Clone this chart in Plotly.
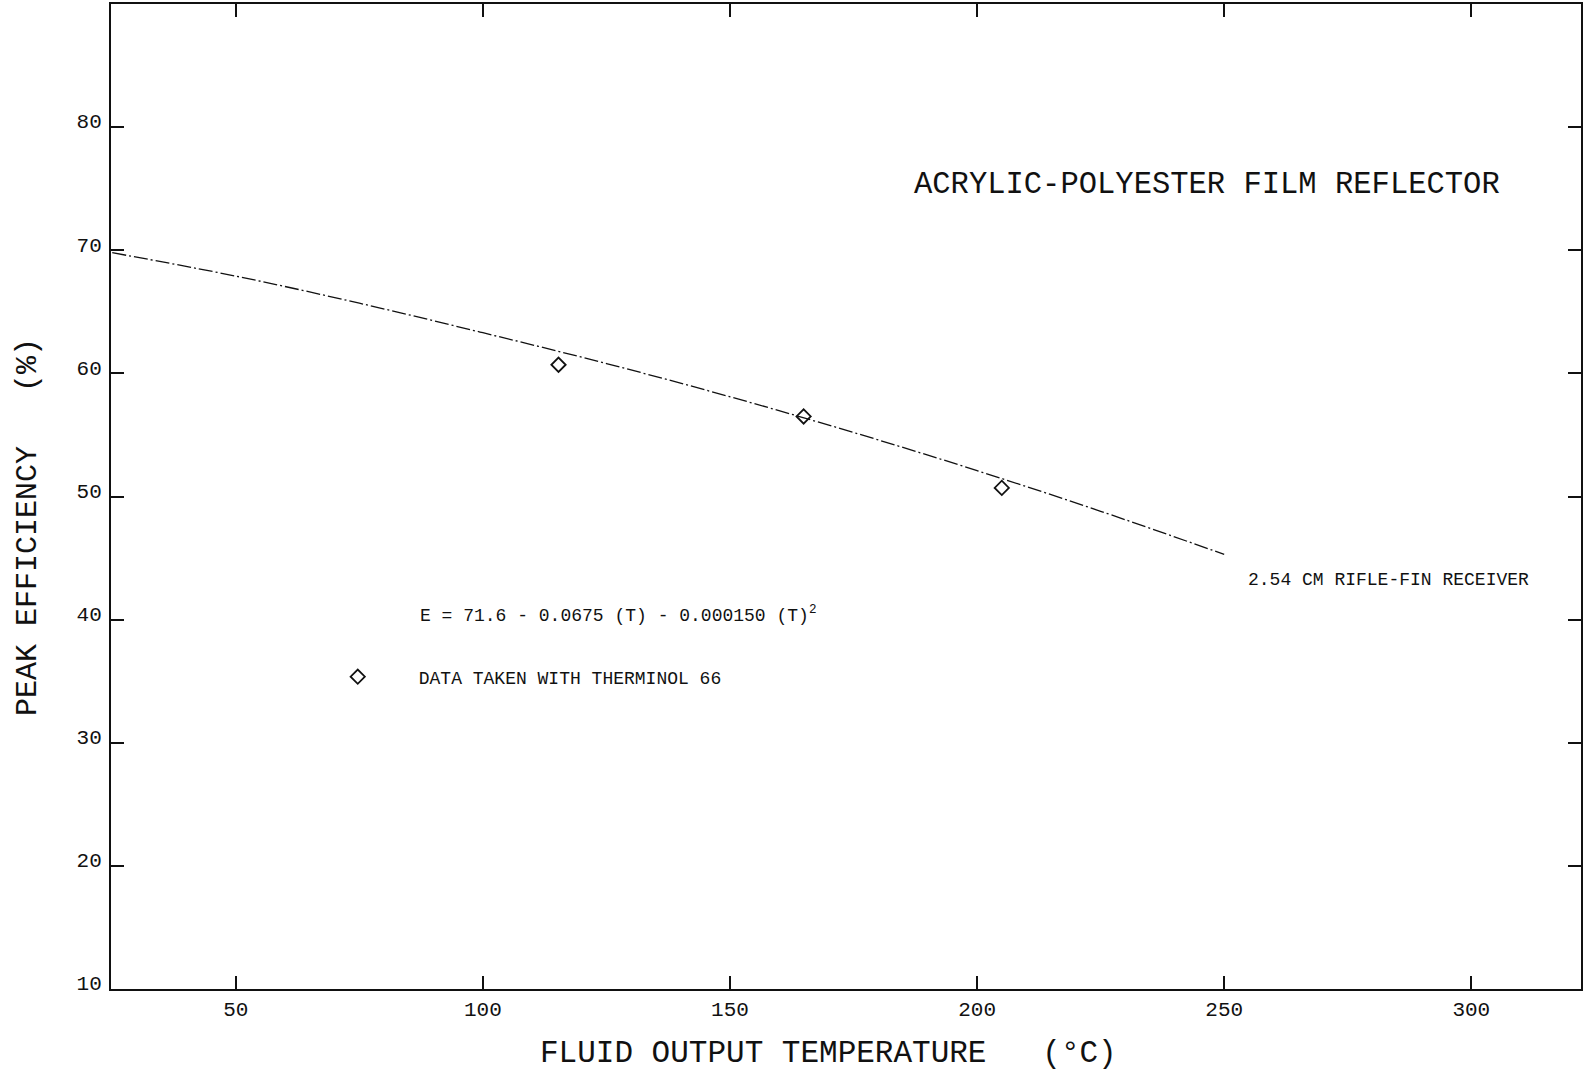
import plotly.graph_objects as go

# Fitted curve points (T in deg C, E in %)
fit_T = [25, 50, 75, 100, 125, 150, 175, 200, 225, 250]
fit_E = [69.8, 67.9, 65.7, 63.3, 60.8, 58.1, 55.2, 52.1, 48.8, 45.3]

# Measured data points
data_T = [115.3, 164.9, 205.0]
data_E = [60.7, 56.5, 50.7]

x_ticks = [50, 100, 150, 200, 250, 300]
y_ticks = [10, 20, 30, 40, 50, 60, 70, 80]

title_text = "ACRYLIC-POLYESTER FILM REFLECTOR"
curve_label = "2.54 CM RIFLE-FIN RECEIVER"
equation_text = "E = 71.6 - 0.0675 (T) - 0.000150 (T)<sup>2</sup>"
legend_text = "DATA TAKEN WITH THERMINOL 66"
x_title = "FLUID OUTPUT TEMPERATURE   (°C)"
y_title = "PEAK EFFICIENCY   (%)"

FONT = "Liberation Mono"
INK = "#111111"

fig = go.Figure()
fig.add_trace(go.Scatter(
    x=fit_T, y=fit_E, mode="lines", line_shape="spline",
    line=dict(color=INK, width=1.3, dash="14px,3px,2px,3px"),
    showlegend=False, hoverinfo="skip"))
fig.add_trace(go.Scatter(
    x=data_T, y=data_E, mode="markers", name=legend_text,
    marker=dict(symbol="diamond-open", size=11, color=INK,
                line=dict(width=1.8, color=INK)),
    showlegend=True))

W, H = 1583, 1071
L, R, T, B = 111, 0, 4, 82
pw = W - L - R
ph = H - T - B

def px_x(p):
    return (p - L) / pw

def px_y(p):
    return (H - B - p) / ph

fig.update_layout(
    width=W, height=H,
    margin=dict(l=L, r=R, t=T, b=B),
    paper_bgcolor="white", plot_bgcolor="white",
    font=dict(family=FONT, color=INK, size=20),
    legend=dict(x=px_x(297), y=px_y(677), xanchor="left", yanchor="middle",
                font=dict(family=FONT, size=18, color=INK),
                bgcolor="rgba(0,0,0,0)", itemwidth=112),
    xaxis=dict(range=[24.75, 322.2], tickvals=x_ticks, ticks="inside", ticklen=13,
               tickwidth=1.5, tickcolor=INK, showline=True, linewidth=2, linecolor=INK,
               mirror="ticks", showgrid=False, zeroline=False,
               tickfont=dict(family=FONT, size=21, color=INK), ticklabelstandoff=0),
    yaxis=dict(range=[10, 90], tickvals=y_ticks, ticks="inside", ticklen=13,
               tickwidth=1.5, tickcolor=INK, showline=True, linewidth=2, linecolor=INK,
               mirror="ticks", showgrid=False, zeroline=False,
               tickfont=dict(family=FONT, size=21, color=INK), ticklabelstandoff=3,
               ticklabelshift=-6),
)

annots = [
    dict(text=title_text, x=px_x(1208), y=px_y(185), xanchor="center", yanchor="middle",
         font=dict(family=FONT, size=30.5, color=INK)),
    dict(text=curve_label, x=px_x(1248), y=px_y(580), xanchor="left", yanchor="middle",
         font=dict(family=FONT, size=18, color=INK)),
    dict(text=equation_text, x=px_x(418), y=px_y(614), xanchor="left", yanchor="middle",
         font=dict(family=FONT, size=18, color=INK)),
    dict(text=x_title, x=px_x(829), y=px_y(1053), xanchor="center", yanchor="middle",
         font=dict(family=FONT, size=31, color=INK)),
    dict(text=y_title, x=px_x(28), y=px_y(527), xanchor="center", yanchor="middle",
         textangle=-90, font=dict(family=FONT, size=30, color=INK)),
]
for a in annots:
    a.update(xref="paper", yref="paper", showarrow=False)
    fig.add_annotation(**a)

fig.write_html("out.html")
